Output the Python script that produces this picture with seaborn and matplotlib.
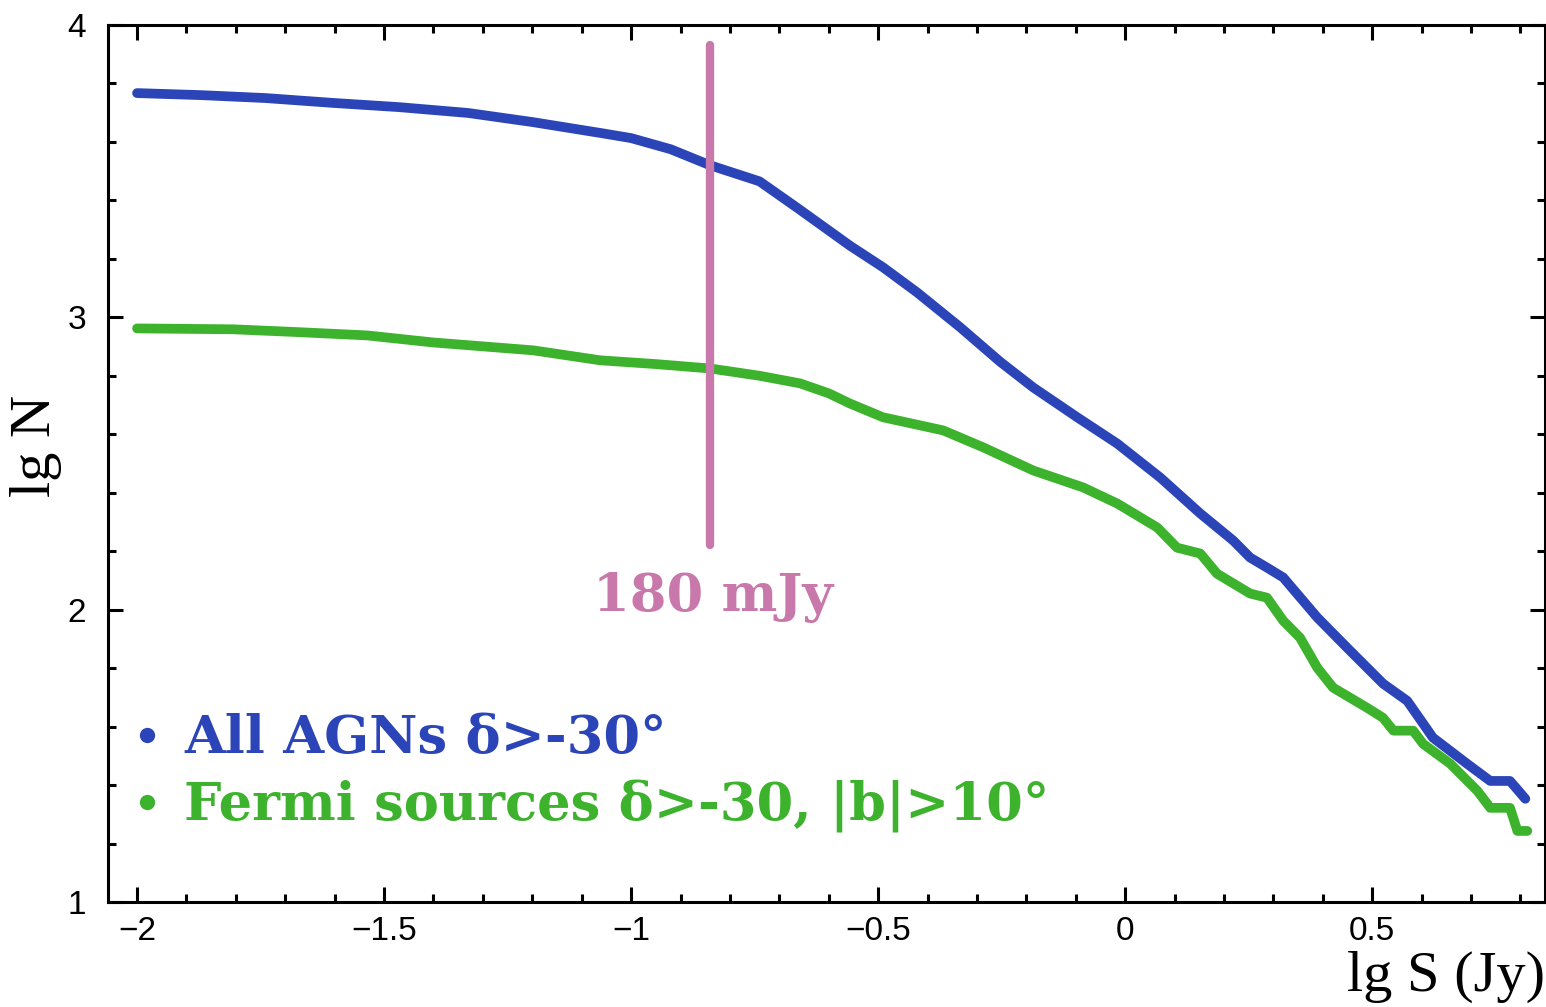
import numpy as np
import pandas as pd
import seaborn as sns
import matplotlib
matplotlib.use("Agg")
import matplotlib.pyplot as plt
from matplotlib.lines import Line2D
from matplotlib.ticker import MultipleLocator, FuncFormatter
from matplotlib.font_manager import FontProperties

# lg S (Jy) vs lg N
agn_lgs = [-2.0, -1.87, -1.74, -1.60, -1.47, -1.33, -1.20, -1.06, -1.0, -0.92,
           -0.84, -0.74, -0.66, -0.557, -0.49, -0.421, -0.334, -0.253, -0.186,
           -0.097, -0.016, 0.071, 0.152, 0.219, 0.253, 0.287, 0.320, 0.389,
           0.455, 0.522, 0.571, 0.623, 0.692, 0.739, 0.779, 0.81]
agn_lgn = [3.767, 3.760, 3.750, 3.733, 3.719, 3.699, 3.668, 3.630, 3.613, 3.575,
           3.52, 3.465, 3.37, 3.245, 3.171, 3.085, 2.966, 2.848, 2.760,
           2.658, 2.568, 2.452, 2.329, 2.236, 2.178, 2.144, 2.110, 1.973,
           1.860, 1.747, 1.688, 1.562, 1.473, 1.414, 1.414, 1.353]

fermi_lgs = [-2.0, -1.806, -1.670, -1.534, -1.401, -1.198, -1.063, -0.95, -0.84,
             -0.74, -0.658, -0.6, -0.557, -0.49, -0.368, -0.287, -0.186, -0.085,
             -0.016, 0.065, 0.105, 0.152, 0.186, 0.253, 0.287, 0.320, 0.354,
             0.389, 0.421, 0.490, 0.522, 0.543, 0.583, 0.603, 0.658, 0.713,
             0.739, 0.779, 0.794, 0.814]
fermi_lgn = [2.962, 2.959, 2.949, 2.938, 2.914, 2.887, 2.853, 2.84, 2.825,
             2.80, 2.774, 2.740, 2.705, 2.658, 2.613, 2.555, 2.476, 2.418,
             2.363, 2.281, 2.212, 2.192, 2.123, 2.055, 2.041, 1.962, 1.904,
             1.801, 1.733, 1.664, 1.630, 1.586, 1.586, 1.541, 1.473, 1.380,
             1.322, 1.322, 1.243, 1.243]

labels = ["All AGNs δ>-30°", "Fermi sources δ>-30, |b|>10°"]
colors = ["#2b45b8", "#3db22c"]

cut_lgs = -0.84
cut_range = [2.22, 3.93]
cut_label = "180 mJy"
cut_color = "#c878aa"

df = pd.concat([
    pd.DataFrame({"lgS": agn_lgs, "lgN": agn_lgn, "sample": labels[0]}),
    pd.DataFrame({"lgS": fermi_lgs, "lgN": fermi_lgn, "sample": labels[1]}),
])

sns.set_style("ticks")
plt.rcParams["font.family"] = ["Liberation Sans", "DejaVu Sans"]
plt.rcParams["text.color"] = "black"
plt.rcParams["axes.labelcolor"] = "black"
plt.rcParams["xtick.color"] = "black"
plt.rcParams["ytick.color"] = "black"

fig = plt.figure(figsize=(15.46, 10.07), dpi=100)
ax = fig.add_axes([0.0699, 0.1043, 0.9295, 0.8709])

sns.lineplot(data=df, x="lgS", y="lgN", hue="sample", palette=colors,
             linewidth=7, solid_capstyle="round", legend=False, ax=ax, sort=False)

ax.plot([cut_lgs, cut_lgs], cut_range, color=cut_color, lw=6, solid_capstyle="round")
ax.text(cut_lgs + 0.005, 1.997, cut_label, color=cut_color, ha="center", va="baseline",
        family="DejaVu Serif", weight="bold", size=38)

ax.set_xlim(-2.0587, 0.85)
ax.set_ylim(1, 4)
ax.xaxis.set_major_locator(MultipleLocator(0.5))
ax.xaxis.set_minor_locator(MultipleLocator(0.1))
ax.yaxis.set_major_locator(MultipleLocator(1))
ax.yaxis.set_minor_locator(MultipleLocator(0.2))
ax.xaxis.set_major_formatter(FuncFormatter(lambda v, p: f"{v:g}".replace("-", "\u2212")))
ax.yaxis.set_major_formatter(FuncFormatter(lambda v, p: f"{v:g}"))
ax.tick_params(which="both", direction="in", top=True, right=True, width=2.2,
               color="black", labelcolor="black", labelsize=24)
ax.tick_params(which="major", length=11)
ax.tick_params(which="minor", length=6)
ax.tick_params(axis="x", pad=10)
ax.tick_params(axis="y", pad=16)
for s in ax.spines.values():
    s.set_linewidth(2.2)
    s.set_color("black")

ax.set_xlabel("lg S (Jy)", family="Liberation Serif", size=42, color="black")
ax.xaxis.label.set_ha("right")
ax.xaxis.label.set_va("baseline")
ax.xaxis.set_label_coords(1.0, -0.101)
ax.set_ylabel("lg N", family="Liberation Serif", size=42, color="black")
ax.yaxis.label.set_va("center")
ax.yaxis.set_label_coords(-0.05, 0.52)

handles = [Line2D([], [], ls="", marker="o", ms=10, color=c) for c in colors]
ax.legend(handles, labels, loc="upper left", bbox_to_anchor=(0.018, 0.215),
          frameon=False, labelcolor="linecolor",
          prop=FontProperties(family="DejaVu Serif", weight="bold", size=38),
          handlelength=0.5, handletextpad=0.45, labelspacing=0.3,
          borderpad=0, borderaxespad=0)

fig.savefig("out.png", dpi=100)
